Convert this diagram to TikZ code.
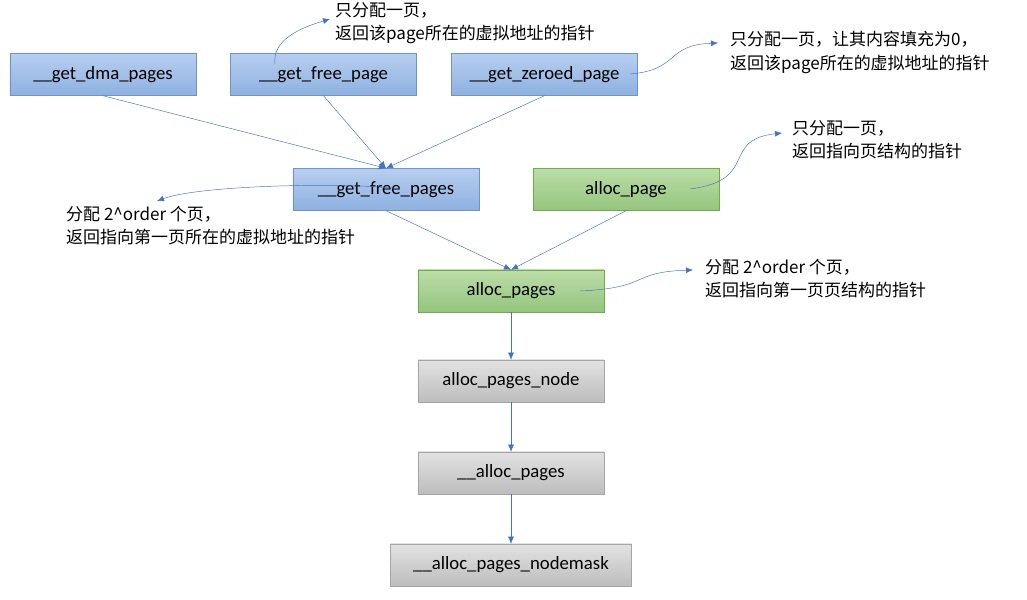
\documentclass[tikz,border=0pt]{standalone}
\usepackage{fontspec}
\setmainfont{Carlito}
\newfontfamily\cjk{Noto Sans CJK SC}
\usetikzlibrary{arrows.meta}

\begin{document}
\begin{tikzpicture}[x=0.03cm,y=-0.03cm,
    box/.style={minimum width=5.58cm,minimum height=1.26cm,
        inner sep=0pt,font=\fontsize{16}{18}\selectfont},
    bluebox/.style={box,top color=blue_top,bottom color=blue_bot,draw=blue_line},
    greenbox/.style={box,top color=green_top,bottom color=green_bot,draw=green_line},
    graybox/.style={box,top color=gray_top,bottom color=gray_bot,draw=gray_line},
    link/.style={-{Latex[length=6pt,width=5pt]},draw=note_blue},
    note/.style={align=left,anchor=north west,inner sep=0pt,
        font=\cjk\fontsize{14.5}{20}\selectfont}]
    \useasboundingbox (0,0) rectangle (1027,600);
    \definecolor{note_blue}{HTML}{4472C4}
    \definecolor{blue_top}{HTML}{B7CEEF}
    \definecolor{blue_bot}{HTML}{8EB1E1}
    \definecolor{blue_line}{HTML}{6F93C8}
    \definecolor{green_top}{HTML}{BCDDA8}
    \definecolor{green_bot}{HTML}{94C57E}
    \definecolor{green_line}{HTML}{70AD47}
    \definecolor{gray_top}{HTML}{E2E2E2}
    \definecolor{gray_bot}{HTML}{BDBDBD}
    \definecolor{gray_line}{HTML}{A5A5A5}

    % first row
    \node[bluebox] (dma) at (103,74.5) {\_\_get\_dma\_pages};
    \node[bluebox] (freepage) at (323.5,74.5) {\_\_get\_free\_page};
    \node[bluebox] (zeroed) at (544.5,74.5) {\_\_get\_zeroed\_page};
    % second row
    \node[bluebox] (freepages) at (386,189.5) {\_\_get\_free\_pages};
    \node[greenbox] (allocpage) at (626,189.5) {alloc\_page};
    % chain
    \node[greenbox] (allocpages) at (511,291) {alloc\_pages};
    \node[graybox] (node) at (511,381) {alloc\_pages\_node};
    \node[graybox] (inner) at (511,473) {\_\_alloc\_pages};
    \node[graybox,minimum width=7.23cm] (mask) at (511,565) {\_\_alloc\_pages\_nodemask};

    \draw[link] (dma.south) -- (freepages.north);
    \draw[link] (freepage.south) -- (freepages.north);
    \draw[link] (zeroed.south) -- (freepages.north);
    \draw[link] (freepages.south) -- (allocpages.north);
    \draw[link] (allocpage.south) -- (allocpages.north);
    \draw[link] (allocpages) -- (node);
    \draw[link] (node) -- (inner);
    \draw[link] (inner) -- (mask);

    % notes
    \node[note] (n1) at (335,2) {只分配一页，\\返回该page所在的虚拟地址的指针};
    \node[note] (n2) at (730,31) {只分配一页，让其内容填充为0，\\返回该page所在的虚拟地址的指针};
    \node[note] (n3) at (792,120) {只分配一页，\\返回指向页结构的指针};
    \node[note] (n4) at (66,206) {分配 2\textasciicircum order 个页，\\返回指向第一页所在的虚拟地址的指针};
    \node[note] (n5) at (705,259) {分配 2\textasciicircum order 个页，\\返回指向第一页页结构的指针};
    \coordinate (c1) at (330,19);
    \coordinate (c2) at (718,43);
    \coordinate (c3) at (782,133);
    \coordinate (c4) at (157,201);
    \coordinate (c5) at (693,270);
    \draw[link] (275,64) .. controls (272,40) and (300,28) .. (c1);
    \draw[link] (630,74) .. controls (680,70) and (665,45) .. (c2);
    \draw[link] (690,189) .. controls (760,180) and (720,140) .. (c3);
    \draw[link] (400,189) .. controls (350,182) and (200,185) .. (c4);
    \draw[link] (580,291) .. controls (650,288) and (630,272) .. (c5);
\end{tikzpicture}
\end{document}
